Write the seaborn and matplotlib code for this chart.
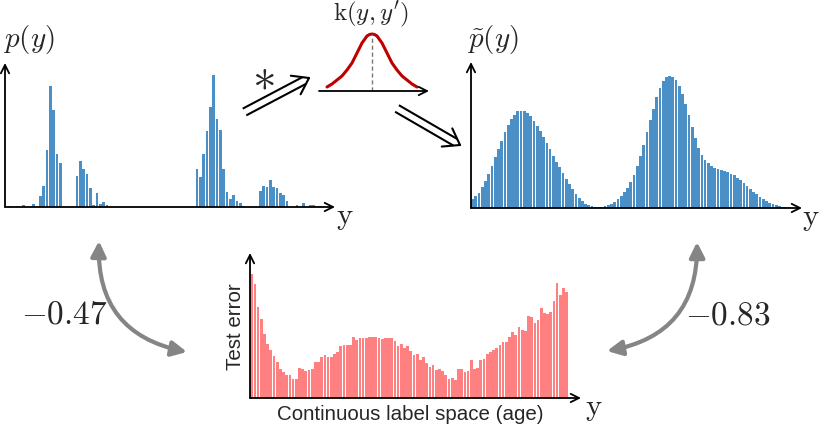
import numpy as np
import pandas as pd
import seaborn as sns
import matplotlib.pyplot as plt

sns.set_style('white')
plt.rcParams['font.family'] = ['Liberation Sans', 'DejaVu Sans']
plt.rcParams['mathtext.fontset'] = 'cm'

# p(y): empirical label histogram (sparse), bin index -> count
p_bins = [1, 3, 5, 8, 10, 11, 12, 13, 14, 15, 16, 21, 22, 23, 24, 25, 26, 27, 28, 29, 30,
          57, 58, 59, 60, 61, 62, 63, 64, 65, 66, 67, 68, 69, 70, 71,
          76, 77, 78, 79, 80, 81, 82, 83, 84, 87, 89, 91, 92, 93, 94]
p_vals = [2, 3, 6, 10, 32, 63, 171, 364, 292, 160, 133, 93, 139, 115, 99, 58, 6, 42, 9, 16, 7,
          115, 90, 160, 227, 301, 397, 265, 231, 114, 45, 24, 36, 19, 13, 2,
          48, 63, 59, 82, 61, 58, 42, 37, 19, 7, 12, 6, 7, 3, 4]
n_bins = 100

# smoothed label density p~(y)
p_smooth = [443 - t for t in [
    417, 408, 397, 380, 363, 340, 318, 291, 266, 241,
    216, 195, 175, 163, 153, 152, 153, 157, 168, 182,
    196, 212, 230, 248, 267, 287, 305, 321, 338, 355,
    372, 387, 400, 412, 422, 430, 435, 438, 440, 441,
    440, 438, 435, 430, 424, 416, 407, 396, 383, 366,
    345, 318, 288, 253, 216, 180, 145, 110, 82, 62,
    49, 46, 50, 60, 78, 100, 130, 165, 200, 233,
    262, 285, 298, 308, 316, 322, 326, 329, 332, 336,
    340, 345, 352, 360, 368, 377, 386, 394, 402, 409,
    416, 422, 427, 431, 434, 437, 439, 440, 441]]

# test error per age bin
test_error = [373, 343, 274, 238, 192, 163, 145, 127, 108, 88,
              79, 70, 70, 57, 57, 90, 87, 82, 84, 87,
              109, 108, 124, 130, 122, 123, 132, 138, 155, 159,
              159, 159, 183, 174, 180, 181, 181, 184, 184, 184,
              179, 178, 181, 181, 181, 172, 156, 163, 151, 157,
              142, 130, 132, 115, 124, 105, 94, 100, 84, 86,
              82, 70, 56, 60, 53, 87, 87, 77, 82, 113,
              87, 90, 114, 117, 132, 138, 143, 150, 160, 168,
              168, 182, 197, 190, 214, 203, 202, 245, 243, 225,
              234, 271, 254, 253, 259, 290, 346, 308, 330, 318]

# kernel k(y, y')
kernel_x = [-45, -40, -35, -30, -25, -20, -15, -10, -5, -2.5, 0, 2.5, 5, 10, 15, 20, 25, 30, 35, 40, 45]
kernel_y = [4, 7, 11, 15, 21, 28, 38, 48, 55, 56.5, 57, 56.5, 55, 48, 38, 28, 21, 15, 11, 7, 4]

corr_left = '$-0.47$'
corr_right = '$-0.83$'

blue = '#4a8fc5'
pink = '#ff8080'

W, H = 822, 426
fig = plt.figure(figsize=(W / 100, H / 100), dpi=100)


def px_axes(left, right, bottom, top):
    return fig.add_axes([left / W, 1 - bottom / H, (right - left) / W, (bottom - top) / H])


def axis_arrows(ax, yaxis=True):
    ap = dict(arrowstyle='->,head_length=0.6,head_width=0.3', lw=1.3, color='black',
              shrinkA=0, shrinkB=0)
    ax.annotate('', xy=(1, 0), xytext=(0, 0), xycoords='axes fraction', arrowprops=ap)
    if yaxis:
        ax.annotate('', xy=(0, 1), xytext=(0, 0), xycoords='axes fraction', arrowprops=ap)


# top-left: p(y)
p_full = np.zeros(n_bins)
p_full[p_bins] = p_vals
df_p = pd.DataFrame({'bin': np.arange(n_bins), 'count': p_full})
ax1 = px_axes(5, 335, 207, 63)
sns.barplot(data=df_p, x='bin', y='count', color=blue, width=0.85, linewidth=0,
            errorbar=None, ax=ax1, saturation=1)
ax1.set_xlim(-0.6, 98.4)
ax1.set_ylim(0, 432)
ax1.axis('off')
axis_arrows(ax1)

# top-right: p~(y)
df_s = pd.DataFrame({'bin': np.arange(len(p_smooth)), 'dens': p_smooth})
ax2 = px_axes(471, 802, 208, 62)
sns.barplot(data=df_s, x='bin', y='dens', color=blue, width=0.85, linewidth=0,
            errorbar=None, ax=ax2, saturation=1)
ax2.set_xlim(-0.5, 102)
ax2.set_ylim(0, 438)
ax2.axis('off')
axis_arrows(ax2)

# bottom: test error
df_e = pd.DataFrame({'bin': np.arange(len(test_error)), 'err': test_error})
ax3 = px_axes(250, 581, 398, 253)
sns.barplot(data=df_e, x='bin', y='err', color=pink, width=0.85, linewidth=0,
            errorbar=None, ax=ax3, saturation=1)
ax3.set_xlim(-0.55, 103.5)
ax3.set_ylim(0, 435)
ax3.axis('off')
axis_arrows(ax3)

# kernel inset
ax4 = px_axes(319, 429, 91, 30)
sns.lineplot(x=kernel_x, y=kernel_y, color='#c00000', lw=2.2, ax=ax4)
ax4.vlines(kernel_x[int(np.argmax(kernel_y))], 0, max(kernel_y), color='#777777',
           lw=1, linestyles=(0, (3, 2)))
ax4.set_xlim(-53, 57)
ax4.set_ylim(0, 61)
ax4.axis('off')
axis_arrows(ax4, yaxis=False)

# overlay in pixel coords for text and arrows
ov = fig.add_axes([0, 0, 1, 1], zorder=-1)
ov.set_xlim(0, W)
ov.set_ylim(H, 0)
ov.axis('off')

ov.text(29, 39, '$p(y)$', fontsize=21, ha='center', va='center')
ov.text(493, 40, r'$\tilde{p}(y)$', fontsize=21, ha='center', va='center')
ov.text(371, 14, r'$\mathrm{k}(y,y^{\prime})$', fontsize=18, ha='center', va='center')
ov.text(345, 217, r'$\mathrm{y}$', fontsize=22, ha='center', va='center')
ov.text(811, 218, r'$\mathrm{y}$', fontsize=22, ha='center', va='center')
ov.text(594, 408, r'$\mathrm{y}$', fontsize=22, ha='center', va='center')
ov.text(263, 77, '$*$', fontsize=34, ha='center', va='center')
ov.text(235, 327, 'Test error', fontsize=14.8, rotation=90, ha='center', va='center')
ov.text(410, 414, 'Continuous label space (age)', fontsize=14.8, ha='center', va='center')
ov.text(64, 315, corr_left, fontsize=24, ha='center', va='center')
ov.text(728, 316, corr_right, fontsize=24, ha='center', va='center')


def double_arrow(start, tip, gap=3.8, L=15, Wd=10.5):
    s = np.array(start, float)
    t = np.array(tip, float)
    d = (t - s) / np.linalg.norm(t - s)
    n = np.array([-d[1], d[0]])
    back = gap * L / Wd
    for k in (-1, 1):
        a = s + k * gap * n
        b = t - d * back + k * gap * n
        ov.plot([a[0], b[0]], [a[1], b[1]], color='black', lw=1.5, solid_capstyle='butt')
    for k in (-1, 1):
        c = t - d * L + k * Wd * n
        ov.plot([c[0], t[0]], [c[1], t[1]], color='black', lw=1.5, solid_capstyle='round')


double_arrow((244.5, 112), (309, 78))
double_arrow((397, 108.5), (460, 145))

gp = dict(arrowstyle='<|-|>,head_length=0.9,head_width=0.45', color='#858585', lw=3,
          shrinkA=0, shrinkB=0)
ov.annotate('', xy=(99, 241), xytext=(187, 352),
            arrowprops=dict(gp, connectionstyle='arc3,rad=-0.42'))
ov.annotate('', xy=(697, 242), xytext=(607, 351),
            arrowprops=dict(gp, connectionstyle='arc3,rad=0.42'))

fig.savefig('out.png', dpi=100)
